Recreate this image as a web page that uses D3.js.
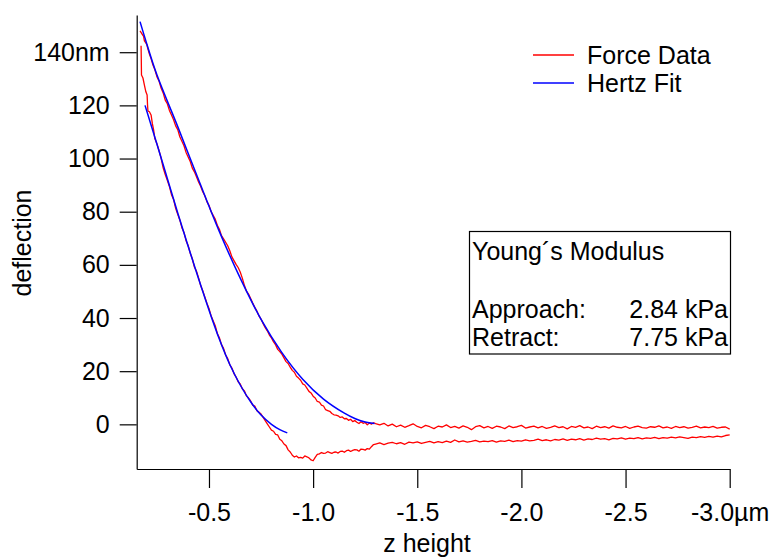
<!DOCTYPE html>
<html>
<head>
<meta charset="utf-8">
<script src="https://d3js.org/d3.v7.min.js"></script>
<style>
    body { margin: 0; background: #fff; }
    text { font-family: 'Liberation Sans', Arial, sans-serif; fill: #000; }
</style>
</head>
<body>
<svg id="chart" width="771" height="557"></svg>
<script>
// ---- data (z height in um, deflection in nm) ----
var xTicks = [-0.5, -1.0, -1.5, -2.0, -2.5, -3.0];
var yTicks = [0, 20, 40, 60, 80, 100, 120, 140];

// approach: contact part, then flat baseline sampled every 0.02 um from -1.30
var approachContact = [[-0.169,148.0],[-0.176,147.2],[-0.182,146.4],[-0.186,146.0],[-0.19,144.3],[-0.196,143.6],[-0.202,142.8],[-0.206,141.5],[-0.214,139.3],[-0.222,137.6],[-0.23,135.4],[-0.24,133.5],[-0.25,130.8],[-0.26,129.2],[-0.27,126.5],[-0.28,124.7],[-0.29,122.0],[-0.30,120.6],[-0.31,118.1],[-0.32,116.4],[-0.33,114.6],[-0.34,112.3],[-0.35,110.9],[-0.36,108.2],[-0.37,106.5],[-0.38,104.8],[-0.39,102.3],[-0.40,100.6],[-0.41,98.9],[-0.42,96.4],[-0.43,95.0],[-0.44,93.1],[-0.45,91.2],[-0.46,89.6],[-0.47,87.5],[-0.48,86.0],[-0.49,83.8],[-0.50,82.4],[-0.51,80.1],[-0.52,78.6],[-0.53,77.2],[-0.54,74.9],[-0.55,73.4],[-0.56,71.0],[-0.57,69.8],[-0.58,68.5],[-0.59,67.2],[-0.60,65.3],[-0.61,63.0],[-0.62,61.6],[-0.63,60.2],[-0.64,59.0],[-0.65,57.3],[-0.66,55.0],[-0.67,52.3],[-0.68,50.1],[-0.69,49.0],[-0.70,47.3],[-0.71,45.6],[-0.72,44.0],[-0.73,42.6],[-0.74,40.8],[-0.75,39.6],[-0.76,37.9],[-0.77,36.4],[-0.78,35.2],[-0.79,33.6],[-0.80,32.5],[-0.81,31.0],[-0.82,29.9],[-0.83,28.2],[-0.84,27.4],[-0.85,26.4],[-0.86,25.0],[-0.87,23.6],[-0.88,22.9],[-0.89,21.5],[-0.90,20.3],[-0.91,19.6],[-0.92,18.1],[-0.93,17.4],[-0.94,16.6],[-0.95,15.2],[-0.96,14.8],[-0.97,13.6],[-0.98,12.4],[-0.99,11.8],[-1.00,10.6],[-1.01,9.9],[-1.02,8.6],[-1.03,8.4],[-1.04,7.2],[-1.05,6.9],[-1.06,5.5],[-1.07,5.2],[-1.08,4.9],[-1.09,4.1],[-1.10,3.6],[-1.11,3.5],[-1.12,3.2],[-1.13,2.6],[-1.14,2.8],[-1.15,2.1],[-1.16,2.2],[-1.17,1.5],[-1.18,1.9],[-1.19,1.0],[-1.20,1.4],[-1.21,0.8],[-1.22,0.3],[-1.23,1.0],[-1.24,0.4],[-1.25,0.7],[-1.26,-0.2],[-1.27,0.5],[-1.28,0.1],[-1.29,0.6]];
var approachBaseline = [0.3,-0.2,0.4,-0.6,0.1,-0.9,-0.3,-1.1,-0.5,0.2,
    -0.8,-1.3,-0.4,-0.9,-1.6,-0.7,-1.0,-0.2,-1.2,-0.8,
    -1.4,-0.6,-1.1,-2.0,-0.9,-0.5,-1.3,-0.8,-1.5,-0.7,
    -1.0,-1.6,-0.6,-1.2,-0.9,-0.4,-1.4,-1.0,-0.7,-1.3,
    -0.8,-1.5,-1.1,-0.6,-1.2,-0.9,-1.7,-0.8,-1.1,-0.5,
    -1.3,-1.0,-1.6,-0.7,-1.2,-0.9,-1.4,-0.6,-1.1,-1.3,
    -0.8,-1.5,-1.0,-0.7,-1.2,-1.4,-0.9,-1.1,-0.6,-1.3,
    -1.0,-1.5,-0.8,-1.2,-0.9,-1.4,-1.1,-0.7,-1.3,-1.0,
    -1.2,-0.8,-1.4,-1.1,-1.0,-1.8];

// retract: contact part + adhesion dip, then baseline on the same 0.02 um grid
var retractContact = [[-0.174,142.4],[-0.175,137.5],[-0.176,131.4],[-0.183,130.3],[-0.19,127.6],[-0.197,125.1],[-0.203,123.9],[-0.205,120.2],[-0.207,117.9],[-0.214,117.6],[-0.222,116.4],[-0.228,113.2],[-0.234,110.9],[-0.24,107.5],[-0.25,105.6],[-0.26,103.0],[-0.27,100.2],[-0.28,96.5],[-0.29,94.0],[-0.30,91.8],[-0.31,89.5],[-0.32,86.4],[-0.33,84.6],[-0.34,81.3],[-0.35,79.0],[-0.36,76.9],[-0.37,74.0],[-0.38,72.2],[-0.39,69.1],[-0.40,67.3],[-0.41,64.4],[-0.42,62.3],[-0.43,59.2],[-0.44,57.6],[-0.45,55.1],[-0.46,52.2],[-0.47,50.3],[-0.48,47.9],[-0.49,45.6],[-0.50,43.6],[-0.51,40.9],[-0.52,39.0],[-0.53,37.1],[-0.54,34.2],[-0.55,32.6],[-0.56,30.0],[-0.57,28.6],[-0.58,26.1],[-0.59,24.7],[-0.60,22.4],[-0.61,21.2],[-0.62,19.1],[-0.63,17.8],[-0.64,16.0],[-0.65,15.2],[-0.66,13.4],[-0.67,12.6],[-0.68,10.7],[-0.69,9.9],[-0.70,8.8],[-0.71,7.2],[-0.72,6.9],[-0.73,5.1],[-0.74,4.6],[-0.75,3.9],[-0.76,2.6],[-0.77,1.4],[-0.78,0.2],[-0.79,-1.0],[-0.80,-2.2],[-0.81,-2.6],[-0.82,-3.8],[-0.83,-4.0],[-0.84,-5.6],[-0.85,-6.2],[-0.86,-7.4],[-0.87,-8.0],[-0.88,-9.6],[-0.89,-10.4],[-0.90,-11.6],[-0.91,-12.3],[-0.92,-11.9],[-0.93,-12.6],[-0.94,-12.4],[-0.95,-12.7],[-0.96,-11.9],[-0.97,-12.2],[-0.98,-12.6],[-0.99,-13.4],[-1.00,-13.7],[-1.01,-12.4],[-1.02,-11.3],[-1.03,-11.1],[-1.04,-10.6],[-1.05,-10.9],[-1.06,-10.8],[-1.07,-10.3],[-1.08,-10.6],[-1.09,-10.9],[-1.10,-10.5],[-1.11,-10.4],[-1.12,-10.8],[-1.13,-10.2],[-1.14,-10.1],[-1.15,-10.5],[-1.16,-9.9],[-1.17,-9.7],[-1.18,-10.2],[-1.19,-9.8],[-1.20,-9.5],[-1.21,-9.6],[-1.22,-10.1],[-1.23,-9.3],[-1.24,-9.4],[-1.25,-9.7],[-1.26,-9.1],[-1.27,-9.3],[-1.28,-8.4],[-1.29,-7.6]];
var retractBaseline = [-7.4,-7.0,-7.6,-7.1,-6.8,-7.3,-6.9,-7.5,-6.7,-7.0,
    -6.6,-7.2,-6.8,-6.4,-7.0,-6.5,-6.9,-6.3,-6.8,-5.9,
    -6.6,-6.2,-6.7,-6.4,-6.0,-6.6,-6.3,-6.5,-6.1,-6.7,
    -6.2,-6.4,-5.9,-6.5,-6.1,-6.3,-5.8,-6.2,-6.0,-5.6,
    -6.1,-5.8,-6.2,-5.7,-5.9,-5.5,-6.0,-5.6,-5.8,-5.4,
    -5.9,-5.5,-5.7,-5.2,-5.6,-5.4,-5.8,-5.3,-5.5,-5.1,
    -5.6,-5.2,-5.4,-5.0,-5.5,-5.1,-5.3,-4.9,-5.4,-5.0,
    -5.2,-4.8,-5.1,-4.7,-5.0,-5.3,-4.8,-5.0,-4.6,-4.9,
    -4.5,-4.8,-4.4,-4.7,-4.2,-4.0];

// Hertz fits
var approachFit = [[-0.169,151.5],[-0.2,143.5],[-0.25,131.5],[-0.35,112],[-0.45,92],[-0.55,72.5],[-0.65,55],[-0.75,39.5],[-0.85,27],[-0.95,17],[-1.05,9.5],[-1.15,4.2],[-1.2,2.2],[-1.25,0.9],[-1.295,0.3]];
var retractFit = [[-0.193,120],[-0.25,105.5],[-0.30,92.5],[-0.35,79.5],[-0.40,67],[-0.45,54.8],[-0.50,43],[-0.55,32],[-0.60,22.5],[-0.65,14.8],[-0.70,8.5],[-0.75,3.5],[-0.80,0],[-0.84,-2],[-0.876,-3.2]];

var legendLabels = ["Force Data", "Hertz Fit"];
var modulusRows = [["Approach:", "2.84 kPa"], ["Retract:", "7.75 kPa"]];

// baseline z grid (instrument step)
var baseZ = d3.range(0, 86).map(i => -1.30 - 0.02 * i);
var approachData = approachContact.concat(approachBaseline.map((v, i) => [baseZ[i], v]));
var retractData = retractContact.concat(retractBaseline.map((v, i) => [baseZ[i], v]));

var svg = d3.select("#chart");
var fs = 25;

var x = d3.scaleLinear().domain([-0.153, -3.0]).range([136.7, 729.7]);
var y = d3.scaleLinear().domain([-16.8, 154]).range([469, 15]);

// axes
var yAxis = d3.axisLeft(y).tickValues(yTicks).tickSize(17).tickSizeOuter(0).tickPadding(10)
    .tickFormat(d => d === 140 ? "140nm" : d);
var gy = svg.append("g").attr("transform", "translate(136.7,0)").call(yAxis);

var xAxis = d3.axisBottom(x).tickValues(xTicks).tickSize(19).tickSizeOuter(0).tickPadding(15)
    .tickFormat(d => d === -3.0 ? d.toFixed(1) + "\u00b5m" : d.toFixed(1));
var gx = svg.append("g").attr("transform", "translate(0,469)").call(xAxis);

[gx, gy].forEach(function(g){
    g.select(".domain").attr("stroke", "#000").attr("stroke-width", 1.2);
    g.selectAll(".tick line").attr("stroke", "#000").attr("stroke-width", 1.2);
    g.selectAll(".tick text").attr("font-family", "'Liberation Sans', Arial, sans-serif")
        .attr("font-size", fs).attr("fill", "#000");
});

svg.append("text").attr("x", 427).attr("y", 552).attr("text-anchor", "middle")
    .attr("font-size", fs).text("z height");
svg.append("text").attr("transform", "translate(31,243) rotate(-90)").attr("text-anchor", "middle")
    .attr("font-size", fs).text("deflection");

// curves
var line = d3.line().x(d => x(d[0])).y(d => y(d[1]));
var fitLine = d3.line().x(d => x(d[0])).y(d => y(d[1])).curve(d3.curveCatmullRom);

[approachData, retractData].forEach(function(data){
    svg.append("path").attr("d", line(data)).attr("fill", "none")
        .attr("stroke", "#ff0000").attr("stroke-width", 1.3).attr("stroke-linejoin", "round");
});
[approachFit, retractFit].forEach(function(data){
    svg.append("path").attr("d", fitLine(data)).attr("fill", "none")
        .attr("stroke", "#0000ff").attr("stroke-width", 1.5);
});

// legend
var legendColors = ["#ff0000", "#0000ff"];
legendLabels.forEach(function(lab, i){
    var ly = 55 + i * 28;
    svg.append("line").attr("x1", 533).attr("x2", 574).attr("y1", ly).attr("y2", ly)
        .attr("stroke", legendColors[i]).attr("stroke-width", 1.4);
    svg.append("text").attr("x", 587).attr("y", ly + 9).attr("font-size", fs).text(lab);
});

// modulus box
svg.append("rect").attr("x", 469.5).attr("y", 231.5).attr("width", 261).attr("height", 122.5)
    .attr("fill", "#fff").attr("stroke", "#000").attr("stroke-width", 1.2);
svg.append("text").attr("x", 472).attr("y", 260).attr("font-size", fs).text("Young\u00b4s Modulus");
modulusRows.forEach(function(r, i){
    var by = 318 + i * 28;
    svg.append("text").attr("x", 472).attr("y", by).attr("font-size", fs).text(r[0]);
    svg.append("text").attr("x", 728).attr("y", by).attr("text-anchor", "end").attr("font-size", fs).text(r[1]);
});
</script>
</body>
</html>
